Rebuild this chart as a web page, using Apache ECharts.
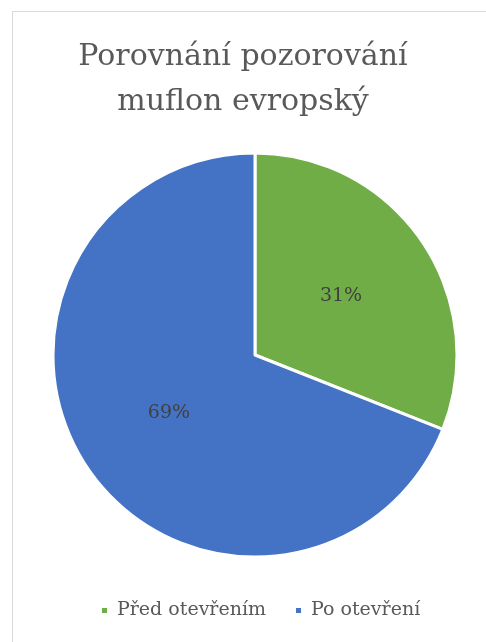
<!DOCTYPE html>
<html><head><meta charset="utf-8">
<script src="https://cdn.jsdelivr.net/npm/echarts@6/dist/echarts.min.js"></script>
<style>html,body{margin:0;padding:0;background:#fff}#c{width:486px;height:642px}</style>
</head><body><div id="c"></div>
<script>
var categories = ["Před otevřením", "Po otevření"];
var values = [31, 69];
var colors = ["#70ad47", "#4472c4"];
var titleText = "Porovnání pozorování\nmuflon evropský";

var chart = echarts.init(document.getElementById('c'), null, {renderer: 'canvas'});
var font = '"DejaVu Serif", serif';
chart.setOption({
  animation: false,
  color: colors,
  textStyle: {fontFamily: font},
  graphic: [{type: 'rect', shape: {x: 12.5, y: 11.5, width: 600, height: 800}, style: {fill: 'none', stroke: '#d9d9d9', lineWidth: 1}, silent: true}],
  title: {text: titleText, left: 'center', top: 30, padding: [5, 5, 5, 21], textStyle: {fontFamily: font, fontSize: 30, fontWeight: 'normal', color: '#595959', lineHeight: 45}},
  legend: {bottom: 17, left: 95, itemWidth: 7, itemHeight: 7, itemGap: 28, icon: 'rect',
    textStyle: {fontFamily: font, fontSize: 19, color: '#595959', padding: [0, 0, 0, 4]}, data: categories},
  series: [{type: 'pie', center: [255, 355], radius: [0, 202], startAngle: 90, clockwise: true,
    itemStyle: {borderColor: '#fff', borderWidth: 3},
    label: {show: true, position: 'inner', formatter: '{d}%', fontFamily: font, fontSize: 19, color: '#404040'},
    labelLine: {show: false},
    data: categories.map(function(c, i){ return {name: c, value: values[i]}; })}]
});
</script></body></html>
